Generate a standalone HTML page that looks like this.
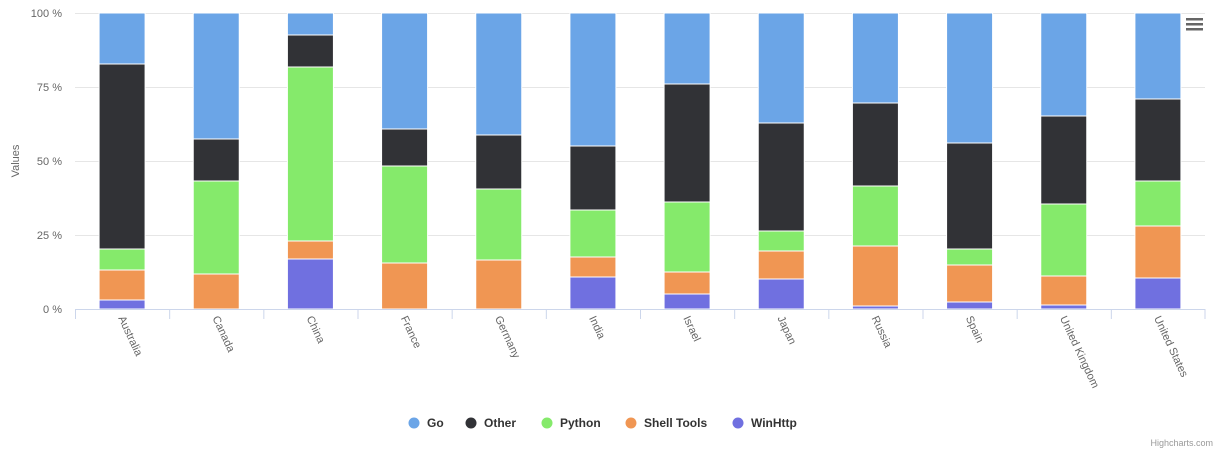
<!DOCTYPE html>
<html><head><style>
body{margin:0;background:#fff;}
svg text{font-family:"Liberation Sans",sans-serif;}
</style></head><body>
<svg width="1225" height="457" viewBox="0 0 1225 457" xmlns="http://www.w3.org/2000/svg">
<rect width="1225" height="457" fill="#fff"/>
<g stroke="#e6e6e6" stroke-width="1">
<line x1="75" x2="1205" y1="13.5" y2="13.5"/>
<line x1="75" x2="1205" y1="87.5" y2="87.5"/>
<line x1="75" x2="1205" y1="161.5" y2="161.5"/>
<line x1="75" x2="1205" y1="235.5" y2="235.5"/>
</g>
<g font-size="11" fill="#666" text-anchor="end">
<text x="62" y="17">100 %</text>
<text x="62" y="91">75 %</text>
<text x="62" y="165">50 %</text>
<text x="62" y="239">25 %</text>
<text x="62" y="313">0 %</text>
</g>
<text transform="translate(19,161) rotate(-90)" font-size="11" fill="#666" text-anchor="middle">Values</text>
<g id="bars"></g>
<line x1="75" x2="1205" y1="309.5" y2="309.5" stroke="#ccd6eb"/>
<g id="ticks" stroke="#ccd6eb"></g>
<g id="labels" font-size="11" fill="#666"></g>
<g font-size="12" font-weight="bold" fill="#333">
<circle cx="414" cy="423" r="5.5" fill="#6ba5e7"/><text x="427" y="427">Go</text>
<circle cx="471" cy="423" r="5.5" fill="#313236"/><text x="484" y="427">Other</text>
<circle cx="547" cy="423" r="5.5" fill="#85ea6b"/><text x="560" y="427">Python</text>
<circle cx="631" cy="423" r="5.5" fill="#f09653"/><text x="644" y="427">Shell Tools</text>
<circle cx="738" cy="423" r="5.5" fill="#7070e0"/><text x="751" y="427">WinHttp</text>
</g>
<text x="1213" y="446" font-size="9" fill="#999" text-anchor="end">Highcharts.com</text>
<g fill="#666"><rect x="1186" y="18" width="17" height="2.5"/><rect x="1186" y="23" width="17" height="2.5"/><rect x="1186" y="28" width="17" height="2.5"/></g>
<script>
var names=["Australia","Canada","China","France","Germany","India","Israel","Japan","Russia","Spain","United Kingdom","United States"];
// tops: WinHttp, Shell, Python, Other (Go to 13)
var t=[[300,270,249,64],[309,274,181,139],[259,241,67,35],[309,263,166,129],[309,260,189,135],[277,257,210,146],[294,272,202,84],[279,251,231,123],[306,246,186,103],[302,265,249,143],[305,276,204,116],[278,226,181,99]];
var cols=["#7070e0","#f09653","#85ea6b","#313236","#6ba5e7"];
var ns="http://www.w3.org/2000/svg",step=1130/12,bars=document.getElementById("bars"),tk=document.getElementById("ticks"),lb=document.getElementById("labels");
function el(n,a,p){var e=document.createElementNS(ns,n);for(var k in a)e.setAttribute(k,a[k]);p.appendChild(e);return e;}
for(var i=0;i<12;i++){var cx=75+step*(i+.5),x=cx-23;
 var b=[309].concat(t[i]).concat([13]);
 for(var s=0;s<5;s++){var y1=b[s+1],y0=b[s];if(y0-y1>0)el("rect",{x:x,y:y1,width:46,height:y0-y1,fill:cols[s],stroke:"#fff","stroke-width":1},bars);}
 el("line",{x1:75+step*i+.5,x2:75+step*i+.5,y1:309,y2:319},tk);
 var tx=el("text",{transform:"translate("+(cx-4)+",318) rotate(65)"},lb);tx.textContent=names[i];}
el("line",{x1:1205,x2:1205,y1:309,y2:319},tk);
</script>
</svg>
</body></html>
